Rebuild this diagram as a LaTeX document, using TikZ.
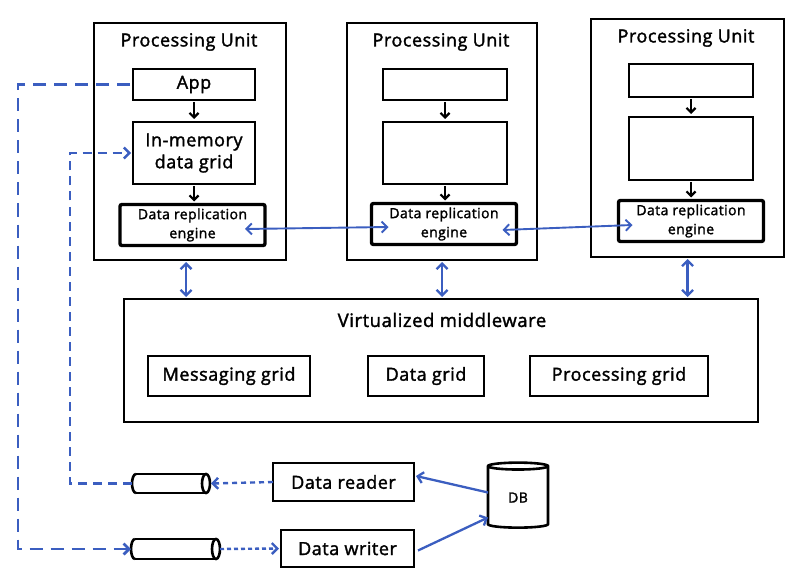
\documentclass[tikz,border=0pt]{standalone}
\usepackage{fontspec}
\setmainfont{Open Sans}[FakeBold=1.8, LetterSpace=3]
\usetikzlibrary{arrows.meta,shapes.geometric}
\definecolor{arrblue}{HTML}{3B5EC0}
\tikzset{btip/.tip={Straight Barb[length=5.5pt,width=11pt]}}
\begin{document}
\begin{tikzpicture}[x=1pt,y=-1pt,
  every node/.style={inner sep=0pt, outer sep=0pt},
  inbox/.style={draw=black, line width=2.6pt, font=\fontsize{18}{22}\selectfont, align=center},
  drebox/.style={draw=black, line width=3.4pt, rounded corners=2pt, minimum width=145pt, minimum height=41pt, font=\fontsize{14}{19}\selectfont, align=center},
  ttl/.style={font=\fontsize{18}{20}\selectfont},
  blk/.style={draw=black, line width=2.2pt, -{Straight Barb[length=4.5pt,width=9pt]}},
  blu/.style={draw=arrblue, line width=2.3pt},
  pipeln/.style={draw=black, line width=2.6pt},
]
\useasboundingbox (0,0) rectangle (800,580);

% Processing units
\node[draw=black, line width=2.5pt, minimum width=192pt, minimum height=237pt] (pu1) at (190,141.5) {};
\node[draw=black, line width=2.5pt, minimum width=190pt, minimum height=237pt] (pu2) at (442,141.5) {};
\node[draw=black, line width=2.5pt, minimum width=193pt, minimum height=238pt] (pu3) at (687.5,138) {};
\node[ttl] (t1) at (189,42) {Processing Unit};
\node[ttl] (t2) at (441,42) {Processing Unit};
\node[ttl] (t3) at (686,38) {Processing Unit};

% inner boxes
\node[inbox, minimum width=122pt, minimum height=31pt] (app) at (194,84.5) {App};
\node[inbox, minimum width=122pt, minimum height=62pt] (mem1) at (194,153) {In-memory\\data grid};
\node[drebox] (dre1) at (192.5,225) {Data replication\\engine};

\node[inbox, minimum width=124pt, minimum height=31pt] (top2) at (445,84.5) {};
\node[inbox, minimum width=124pt, minimum height=62pt] (mem2) at (445,153) {};
\node[drebox] (dre2) at (444,224) {Data replication\\engine};

\node[inbox, minimum width=124pt, minimum height=33pt] (top3) at (691,80.5) {};
\node[inbox, minimum width=124pt, minimum height=63pt] (mem3) at (691,148.5) {};
\node[drebox] (dre3) at (691,221) {Data replication\\engine};

% black arrows
\draw[blk, shorten <=2pt, shorten >=3pt] (app.south) -- (mem1.north);
\draw[blk, shorten <=2pt, shorten >=3pt] (mem1.south) -- ([xshift=1.5pt]dre1.north);
\draw[blk, shorten <=2pt, shorten >=3pt] (top2.south) -- (mem2.north);
\draw[blk, shorten <=2pt, shorten >=3pt] (mem2.south) -- ([xshift=1pt]dre2.north);
\draw[blk, shorten <=2pt, shorten >=3pt] (top3.south) -- (mem3.north);
\draw[blk, shorten <=2pt, shorten >=3pt] (mem3.south) -- (dre3.north);

% middleware
\node[draw=black, line width=2.6pt, minimum width=634pt, minimum height=123pt] (mw) at (441,360.5) {};
\node[font=\fontsize{18.5}{21}\selectfont] (mwt) at (442,320) {Virtualized middleware};
\node[inbox, minimum width=162pt, minimum height=40pt] (msg) at (229,376) {Messaging grid};
\node[inbox, minimum width=116pt, minimum height=40pt] (dg) at (426,376) {Data grid};
\node[inbox, minimum width=178pt, minimum height=40pt] (pg) at (619,376) {Processing grid};

% vertical double arrows
\draw[blu, btip-btip, shorten <=2pt, shorten >=2pt] ([xshift=-4pt]pu1.south) -- ([xshift=-4pt]pu1.south |- mw.north);
\draw[blu, btip-btip, shorten <=2pt, shorten >=2pt] (pu2.south) -- (pu2.south |- mw.north);
\draw[blu, btip-btip, shorten <=2pt, shorten >=2pt] (pu3.south) -- (pu3.south |- mw.north);

% horizontal double arrows between replication engines
\draw[blu, line width=1.9pt, btip-btip] ([xshift=-20pt,yshift=-4pt]dre1.east) -- ([xshift=17pt,yshift=-3pt]dre2.west);
\draw[blu, line width=1.9pt, btip-btip] ([xshift=-14pt,yshift=-6pt]dre2.east) -- ([xshift=14pt,yshift=-4pt]dre3.west);

% pipes (queues)
\node[minimum width=78pt, minimum height=19pt] (pr) at (171,483.5) {};
\node[minimum width=89pt, minimum height=20pt] (pw) at (175.5,549) {};
\draw[pipeln] ([xshift=4pt]pr.north west) -- ([xshift=-4pt]pr.north east);
\draw[pipeln] ([xshift=4pt]pr.south west) -- ([xshift=-4pt]pr.south east);
\draw[pipeln] ([xshift=-4pt]pr.east) ellipse[x radius=4pt, y radius=9.5pt];
\draw[pipeln] ([xshift=4pt]pr.north west) arc[start angle=90, end angle=270, x radius=4pt, y radius=9.5pt];
\draw[pipeln] ([xshift=4pt]pw.north west) -- ([xshift=-4pt]pw.north east);
\draw[pipeln] ([xshift=4pt]pw.south west) -- ([xshift=-4pt]pw.south east);
\draw[pipeln] ([xshift=-4pt]pw.east) ellipse[x radius=4pt, y radius=10pt];
\draw[pipeln] ([xshift=4pt]pw.north west) arc[start angle=90, end angle=270, x radius=4pt, y radius=10pt];

% reader / writer / DB
\node[inbox, minimum width=141pt, minimum height=38pt] (rd) at (343.5,482) {Data reader};
\node[inbox, minimum width=133pt, minimum height=37pt] (wr) at (347.5,548.5) {Data writer};
\node[cylinder, shape border rotate=90, draw=black, line width=2.6pt, aspect=0.35,
      minimum width=60pt, minimum height=65pt, font=\fontsize{14}{16}\selectfont] (db) at (518,497.5) {DB};

% dashed connectors
\coordinate (L1) at (18,549);
\coordinate (L2) at (70,153);
\draw[blu, line width=2.8pt, dash pattern=on 13pt off 8pt, -btip] ([xshift=-3pt]app.west) -| (L1) -- (pw.west);
\draw[blu, line width=2.4pt, dash pattern=on 9pt off 6pt, -btip] (pr.west) -| (L2) -- ([xshift=-2pt]mem1.west);
\draw[blu, line width=2.4pt, dash pattern=on 5pt off 4pt, -btip] (rd.west) -- ([xshift=1pt]pr.east);
\draw[blu, line width=2.4pt, dash pattern=on 4pt off 3pt, -btip] (pw.east) -- ([xshift=-2pt]wr.west);

% solid DB connectors
\draw[blu, -btip] ([yshift=5pt]db.west) -- ([xshift=2pt,yshift=6pt]rd.east);
\draw[blu, -btip] ([xshift=4pt,yshift=-2pt]wr.east) -- ([yshift=-20pt]db.west);
\end{tikzpicture}
\end{document}
